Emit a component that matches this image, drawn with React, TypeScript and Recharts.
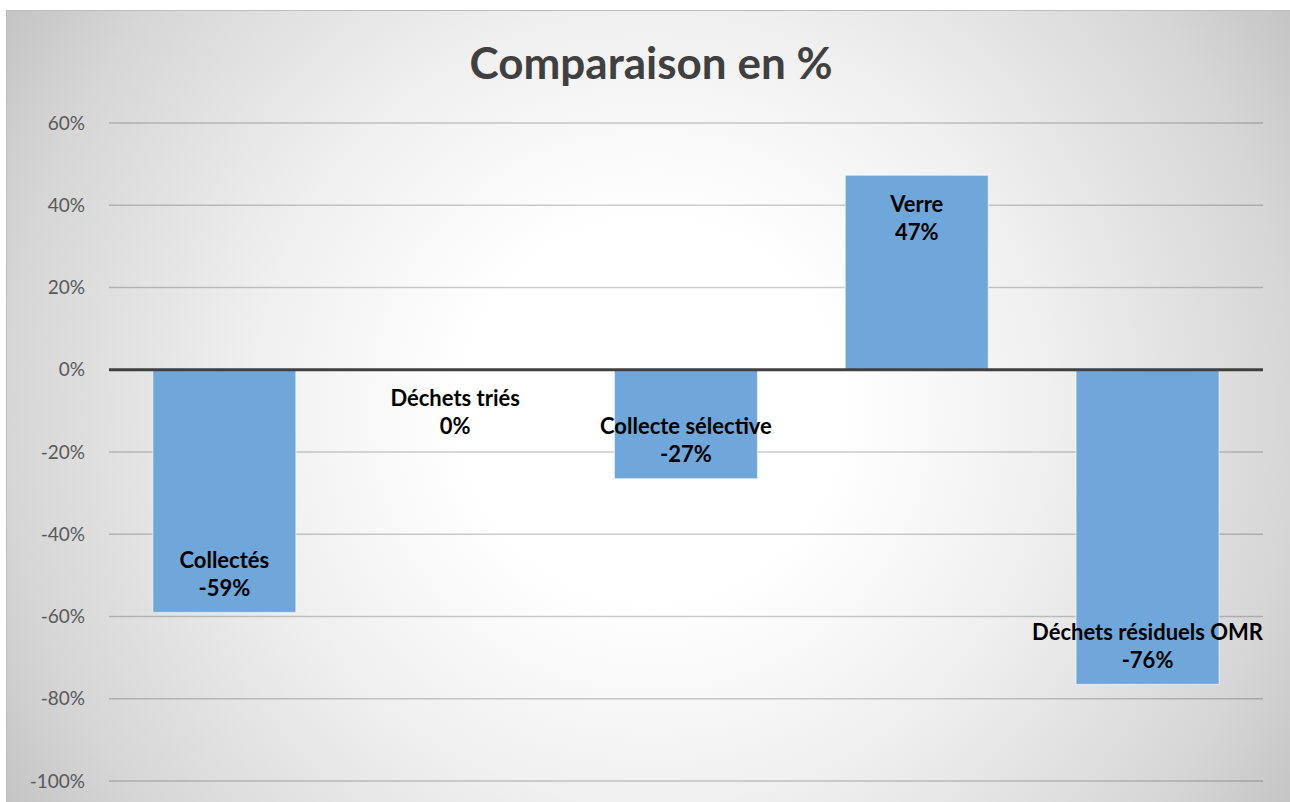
import React from "react";
import { BarChart, Bar, XAxis, YAxis, CartesianGrid, ReferenceLine, ReferenceDot, LabelList } from "recharts";

const categories = ["Collectés", "Déchets triés", "Collecte sélective", "Verre", "Déchets résiduels OMR"];
const values = [-0.59, 0, -0.265, 0.473, -0.765];
const valueLabels = ["-59%", "0%", "-27%", "47%", "-76%"];
const yTicks = [-1, -0.8, -0.6, -0.4, -0.2, 0, 0.2, 0.4, 0.6];

const data = categories.map((name, i) => ({ name, value: values[i], label: valueLabels[i] }));

const FONT = "Lato, 'Open Sans', sans-serif";
const LABEL_SIZE = 22;

const drawLabel = (idx: number, cx: number, y1: number, y2: number) => (
  <g>
    <text x={cx} y={y1} textAnchor="middle" dominantBaseline="central" fontFamily={FONT} fontWeight={700} fontSize={LABEL_SIZE} fill="#000">
      {categories[idx]}
    </text>
    <text x={cx} y={y2} textAnchor="middle" dominantBaseline="central" fontFamily={FONT} fontWeight={700} fontSize={LABEL_SIZE} fill="#000">
      {valueLabels[idx]}
    </text>
  </g>
);

const BarLabel = (props: any) => {
  const { x, y, width, height, value } = props;
  const idx = values.indexOf(value);
  if (idx < 0) return null;
  const v = values[idx];
  const top = Math.min(y, y + height);
  const bottom = Math.max(y, y + height);
  const cx = x + width / 2;
  if (v > 0) return drawLabel(idx, cx, top + 28, top + 56);
  if (v < 0) return drawLabel(idx, cx, bottom - 53, bottom - 25);
  return drawLabel(idx, cx, top + 28, top + 56);
};

const ZeroLabel = (idx: number) => (props: any) => {
  const vb = props.viewBox || {};
  const cx = (vb.x || 0) + (vb.width || 0) / 2;
  const cy = (vb.y || 0) + (vb.height || 0) / 2;
  return drawLabel(idx, cx, cy + 28, cy + 56);
};

export default function App() {
  return (
    <div
      style={{
        position: "absolute",
        left: 6,
        top: 10,
        width: 1290,
        height: 800,
        boxSizing: "border-box",
        border: "1px solid #bdbdbd",
        background:
          "radial-gradient(circle farthest-corner at 50% 50%, #ffffff 0%, #ffffff 25%, #f0f0f0 52%, #d6d6d6 85%, #c4c4c4 100%)",
      }}
    >
      <div
        style={{
          position: "absolute",
          left: 0,
          top: 26,
          width: 1288,
          textAlign: "center",
          fontFamily: FONT,
          fontWeight: 700,
          fontSize: 44,
          color: "#404040",
          lineHeight: "50px",
        }}
      >
        Comparaison en %
      </div>
      <div style={{ position: "absolute", left: 0, top: 0 }}>
        <BarChart
          width={1284}
          height={792}
          data={data}
          margin={{ top: 112, right: 28, bottom: 22, left: 20 }}
          barCategoryGap="19%"
        >
          <CartesianGrid vertical={false} stroke="rgba(0,0,0,0.2)" strokeWidth={1.5} />
          <XAxis dataKey="name" hide />
          <YAxis
            type="number"
            domain={[-1, 0.6]}
            ticks={yTicks}
            interval={0}
            width={82}
            axisLine={false}
            tickLine={false}
            tickSize={0}
            tickMargin={24}
            tickFormatter={(v: number) => `${Math.round(v * 100)}%`}
            tick={{ fontFamily: FONT, fontSize: 19, fill: "#595959" }}
          />
          <Bar dataKey="value" fill="#6fa7da" stroke="rgba(255,255,255,0.6)" strokeWidth={1} isAnimationActive={false}>
            <LabelList dataKey="value" content={BarLabel} />
          </Bar>
          <ReferenceLine y={0} stroke="#404040" strokeWidth={3} />
          {data.map((d, i) =>
            d.value === 0 ? (
              <ReferenceDot key={d.name} x={d.name} y={0} r={0} fill="none" stroke="none" label={ZeroLabel(i)} />
            ) : null
          )}
        </BarChart>
      </div>
    </div>
  );
}
